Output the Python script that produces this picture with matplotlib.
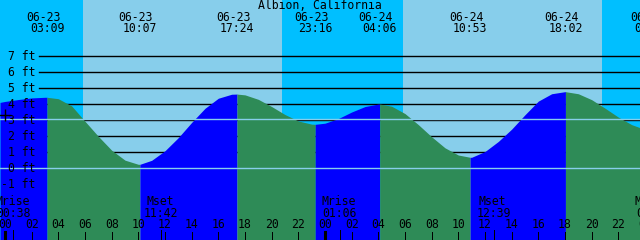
import matplotlib
matplotlib.use("Agg")
import matplotlib.pyplot as plt
import matplotlib.transforms as mtransforms
import numpy as np

# ---------------- data (hours from 06-23 00:00, heights in ft) ----------------
title = "Albion, California"
t_start, t_end = -0.375, 47.625

curve_t = [-0.375] + list(range(0, 48)) + [47.625]
curve_h = [4.12, 4.18, 4.30, 4.40, 4.44, 4.35, 3.90, 2.94, 2.00, 1.13,
           0.51, 0.25, 0.50, 1.10, 1.92, 2.87, 3.75, 4.38, 4.63, 4.59,
           4.31, 3.86, 3.36, 2.96, 2.76, 2.82, 3.11, 3.52, 3.86, 4.02,
           3.88, 3.42, 2.73, 1.97, 1.28, 0.83, 0.69, 1.05, 1.68, 2.45,
           3.35, 4.20, 4.66, 4.79, 4.66, 4.29, 3.76, 3.20, 2.73, 2.54]

ext_t = [3.15, 10.117, 17.4, 23.267, 28.1, 34.883, 42.033, 48.45]
ext_h = [4.44, 0.25, 4.64, 2.75, 4.02, 0.69, 4.79, 2.45]
ext_date = ["06-23", "06-23", "06-23", "06-23", "06-24", "06-24", "06-24", "06-25"]
ext_time = ["03:09", "10:07", "17:24", "23:16", "04:06", "10:53", "18:02", "00:27"]

sun_events = [5.85, 20.783, 29.85, 44.783]   # sunrise, sunset, sunrise, sunset

moon_t = [0.633, 11.7, 25.1, 36.65, 48.6]
moon_kind = ["Mrise", "Mset", "Mrise", "Mset", "Mrise"]
moon_time = ["00:38", "11:42", "01:06", "12:39", "00:36"]

ft_levels = [-1, 0, 1, 2, 3, 4, 5, 6, 7]
line_levels = [0, 1, 2, 3, 4, 5, 6, 7]
light_levels = [0, 3.06]
hour_ticks = list(range(0, 50, 2))
midnights = [0, 24, 48]
now_t, now_h = 0.0, 3.36

# ---------------- styling ----------------
NIGHT = "#00BFFF"
DAY = "#87CEEB"
RISE = "#0000FF"
FALL = "#2E8B57"
FONT = "DejaVu Sans Mono"
FS = 8.3

fig = plt.figure(figsize=(6.4, 2.4), dpi=100)
ax = fig.add_axes([0, 0, 1, 1])
ymin, ymax = -4.48, 10.52
ax.set_xlim(t_start, t_end)
ax.set_ylim(ymin, ymax)
ax.axis("off")

# day / night background
bounds = [t_start] + sun_events + [t_end]
for i in range(len(bounds) - 1):
    ax.axvspan(bounds[i], bounds[i + 1], color=NIGHT if i % 2 == 0 else DAY,
               lw=0, zorder=0)

pxh = (t_end - t_start) / 640.0   # hours per pixel

# black level lines
for lv in line_levels:
    ax.plot([t_start + 39 * pxh, t_end], [lv, lv], color="black", lw=1.0, zorder=1)

# tide curve (merge hourly readings with extremes)
pts = sorted(zip(curve_t + ext_t, curve_h + ext_h))
pts = [p for p in pts if t_start <= p[0] <= t_end]
T = np.array([p[0] for p in pts])
H = np.array([p[1] for p in pts])
seg_b = [t_start] + [e for e in ext_t if t_start < e < t_end] + [t_end]
for a, b in zip(seg_b[:-1], seg_b[1:]):
    m = (T >= a) & (T <= b)
    tt, hh = T[m], H[m]
    col = RISE if hh[-1] > hh[0] else FALL
    ax.fill_between(tt, hh, ymin, color=col, lw=0, zorder=2)

# light lines over fill
for lv in light_levels:
    ax.plot([t_start, t_end], [lv, lv], color=DAY, lw=1.0, zorder=3)

# ft labels
for lv in ft_levels:
    ax.text(t_start + 35 * pxh, lv, f"{lv} ft", ha="right", va="center",
            family=FONT, fontsize=FS, zorder=5)

# now marker
ax.plot([now_t], [now_h], marker="+", ms=8, mew=1.0, color="black", zorder=5)

trans = mtransforms.blended_transform_factory(ax.transData, ax.transAxes)
def yf(px):
    return 1 - px / 240.0

# title
ax.text(0.5, yf(5.5), title, transform=ax.transAxes, ha="center", va="center",
        family=FONT, fontsize=FS, zorder=6)

# extreme labels
for t, d, s in zip(ext_t, ext_date, ext_time):
    ax.text(t - 4 * pxh, yf(17.5), d, transform=trans, ha="center", va="center",
            family=FONT, fontsize=FS, zorder=6, clip_on=False)
    ax.text(t, yf(29), s, transform=trans, ha="center", va="center",
            family=FONT, fontsize=FS, zorder=6, clip_on=False)

# moon labels + ticks
for t, k, s in zip(moon_t, moon_kind, moon_time):
    ax.text(t - 1 * pxh, yf(201.5), k, transform=trans, ha="center", va="center",
            family=FONT, fontsize=FS, zorder=6)
    ax.text(t, yf(213.5), s, transform=trans, ha="center", va="center",
            family=FONT, fontsize=FS, zorder=6)
    ax.plot([t, t], [0, yf(230)], transform=trans, color="black", lw=0.72, zorder=6)

# hour ticks
for h in hour_ticks:
    ax.text(h, yf(225), f"{h % 24:02d}", transform=trans, ha="center", va="center",
            family=FONT, fontsize=FS, zorder=6)
    lw = 2.2 if h in midnights else 0.72
    ax.plot([h, h], [0, yf(232)], transform=trans, color="black", lw=lw, zorder=6)

fig.savefig("out.png", dpi=100)
